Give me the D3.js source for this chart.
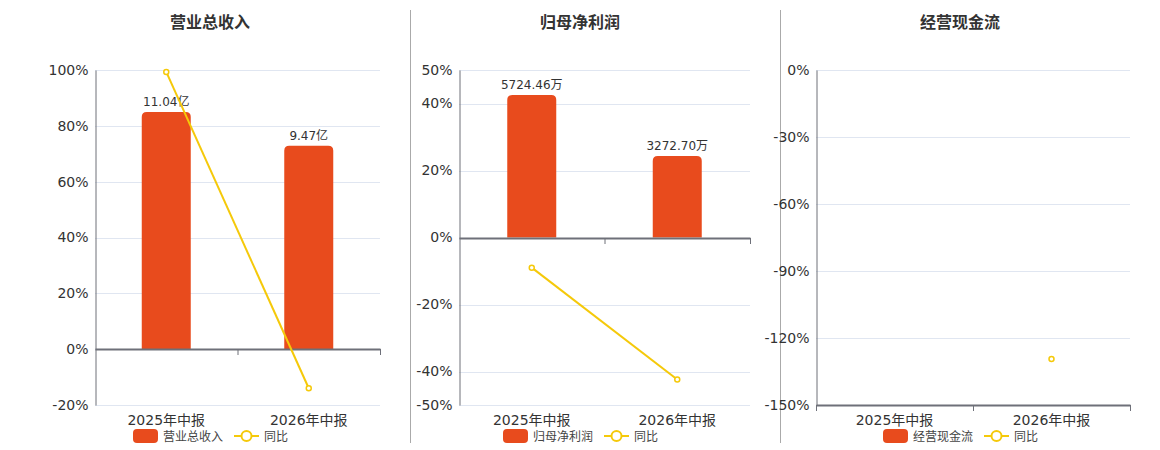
<!DOCTYPE html>
<html>
<head>
<meta charset="utf-8">
<script src="https://cdn.jsdelivr.net/npm/d3@7"></script>
<style>
  body { margin: 0; background: #fff; }
  text { font-family: "DejaVu Sans", "Noto Sans CJK SC", sans-serif; }
</style>
</head>
<body>
<div id="chart-area"></div>
<script>
// data
var categories = ["2025年中报", "2026年中报"];

var revenue = [11.04, 9.47];
var revenueLabels = ["11.04亿", "9.47亿"];
var revenueYoy = [99.3, -14.0];

var profit = [5724.46, 3272.70];
var profitLabels = ["5724.46万", "3272.70万"];
var profitYoy = [-9.0, -42.4];

var cashflow = [null, null];
var cashflowLabels = ["", ""];
var cashflowYoy = [null, -129.4];

var ticks1 = [-20, 0, 20, 40, 60, 80, 100];
var ticks2 = [-50, -40, -20, 0, 20, 40, 50];
var ticks3 = [-150, -120, -90, -60, -30, 0];

var barColor = "#e84b1d";
var lineColor = "#f5c90a";
var axisColor = "#6e7079";
var gridColor = "#e0e6f1";
var textColor = "#333";

var panels = [
  { title: "营业总收入", name: "营业总收入", bars: revenue, labels: revenueLabels, yoy: revenueYoy,
    ticks: ticks1, barDomain: [-2.6, 13], left: 95, right: 380, cx: 210, legendX: 133, axisAtZero: true },
  { title: "归母净利润", name: "归母净利润", bars: profit, labels: profitLabels, yoy: profitYoy,
    ticks: ticks2, barDomain: [-6725, 6725], left: 459, right: 750, cx: 580, legendX: 503, axisAtZero: true },
  { title: "经营现金流", name: "经营现金流", bars: cashflow, labels: cashflowLabels, yoy: cashflowYoy,
    ticks: ticks3, barDomain: [-1, 1], left: 816, right: 1130, cx: 960, legendX: 883, axisAtZero: false }
];

var plotTop = 70, plotBottom = 405, barWidth = 49;

var svg = d3.select("#chart-area")
  .append("svg")
  .attr("width", 1160)
  .attr("height", 450);

// panel dividers
[410, 780].forEach(function(x) {
  svg.append("line")
    .attr("x1", x + 0.5).attr("x2", x + 0.5)
    .attr("y1", 10).attr("y2", 443)
    .attr("stroke", "#aaa")
    .attr("stroke-width", 1);
});

panels.forEach(function(p) {
  var g = svg.append("g");

  var x = d3.scaleBand()
    .domain(categories)
    .range([p.left, p.right])
    .padding(0);

  var y = d3.scaleLinear()
    .domain(d3.extent(p.ticks))
    .range([plotBottom, plotTop]);

  var yBar = d3.scaleLinear()
    .domain(p.barDomain)
    .range([plotBottom, plotTop]);

  // title
  g.append("text")
    .attr("x", p.cx)
    .attr("y", 28)
    .attr("text-anchor", "middle")
    .attr("font-size", "16px")
    .attr("font-weight", "bold")
    .attr("fill", textColor)
    .text(p.title);

  // grid lines
  g.selectAll(".grid")
    .data(p.ticks)
    .enter()
    .append("line")
    .attr("x1", p.left).attr("x2", p.right)
    .attr("y1", function(d) { return Math.round(y(d)) + 0.5; })
    .attr("y2", function(d) { return Math.round(y(d)) + 0.5; })
    .attr("stroke", gridColor);

  // y axis
  var yAxis = d3.axisLeft(y)
    .tickValues(p.ticks)
    .tickSize(0)
    .tickPadding(7)
    .tickFormat(function(d) { return d + "%"; });

  var yAxisGroup = g.append("g")
    .attr("transform", "translate(" + (p.left + 0.5) + ",0)")
    .call(yAxis);
  yAxisGroup.select(".domain").attr("stroke", axisColor);
  yAxisGroup.selectAll("text")
    .attr("font-size", "14px")
    .attr("fill", textColor)
    .style("font-family", "'DejaVu Sans', 'Noto Sans CJK SC', sans-serif");

  // bars
  var barData = p.bars.map(function(v, i) { return { c: categories[i], v: v, label: p.labels[i] }; })
    .filter(function(d) { return d.v != null; });

  g.selectAll(".bar")
    .data(barData)
    .enter()
    .append("path")
    .attr("fill", barColor)
    .attr("d", function(d) {
      var x0 = x(d.c) + (x.bandwidth() - barWidth) / 2;
      var y0 = yBar(d.v), y1 = yBar(0), r = 5;
      return "M" + x0 + "," + y1 +
        "V" + (y0 + r) +
        "Q" + x0 + "," + y0 + " " + (x0 + r) + "," + y0 +
        "H" + (x0 + barWidth - r) +
        "Q" + (x0 + barWidth) + "," + y0 + " " + (x0 + barWidth) + "," + (y0 + r) +
        "V" + y1 + "Z";
    });

  g.selectAll(".barLabel")
    .data(barData)
    .enter()
    .append("text")
    .attr("x", function(d) { return x(d.c) + x.bandwidth() / 2; })
    .attr("y", function(d) { return yBar(d.v) - 6; })
    .attr("text-anchor", "middle")
    .attr("font-size", "12px")
    .attr("fill", textColor)
    .text(function(d) { return d.label; });

  // x axis
  var axisY = Math.round(p.axisAtZero ? y(0) : plotBottom);
  var xAxis = d3.axisBottom(x).tickSize(0).tickFormat("");
  var xAxisGroup = g.append("g")
    .attr("transform", "translate(0," + axisY + ")")
    .call(xAxis);
  xAxisGroup.select(".domain").attr("stroke", axisColor).attr("stroke-width", 2);

  // boundary ticks
  g.selectAll(".xtick")
    .data(categories)
    .enter()
    .append("line")
    .attr("x1", function(d) { return x(d) + x.bandwidth() + 0.5; })
    .attr("x2", function(d) { return x(d) + x.bandwidth() + 0.5; })
    .attr("y1", axisY)
    .attr("y2", axisY + 6)
    .attr("stroke", axisColor);
  if (!p.axisAtZero) {
    g.append("line")
      .attr("x1", p.left + 0.5).attr("x2", p.left + 0.5)
      .attr("y1", axisY).attr("y2", axisY + 6)
      .attr("stroke", axisColor);
  }

  // category labels
  g.selectAll(".xlabel")
    .data(categories)
    .enter()
    .append("text")
    .attr("x", function(d) { return x(d) + x.bandwidth() / 2; })
    .attr("y", 425)
    .attr("text-anchor", "middle")
    .attr("font-size", "14px")
    .attr("fill", textColor)
    .text(function(d) { return d; });

  // yoy line
  var lineData = p.yoy.map(function(v, i) { return { c: categories[i], v: v }; });
  var line = d3.line()
    .defined(function(d) { return d.v != null; })
    .x(function(d) { return x(d.c) + x.bandwidth() / 2; })
    .y(function(d) { return y(d.v); });

  g.append("path")
    .datum(lineData)
    .attr("d", line)
    .attr("fill", "none")
    .attr("stroke", lineColor)
    .attr("stroke-width", 2);

  g.selectAll(".pt")
    .data(lineData.filter(function(d) { return d.v != null; }))
    .enter()
    .append("circle")
    .attr("cx", function(d) { return x(d.c) + x.bandwidth() / 2; })
    .attr("cy", function(d) { return y(d.v); })
    .attr("r", 2.5)
    .attr("fill", "#fff")
    .attr("stroke", lineColor)
    .attr("stroke-width", 1.5);

  // legend
  var lg = g.append("g").attr("transform", "translate(" + p.legendX + ",429)");
  lg.append("rect")
    .attr("width", 25).attr("height", 14)
    .attr("rx", 4)
    .attr("fill", barColor);
  lg.append("text")
    .attr("x", 30).attr("y", 11.5)
    .attr("font-size", "12px")
    .attr("fill", "#444")
    .text(p.name);
  lg.append("line")
    .attr("x1", 101).attr("x2", 126)
    .attr("y1", 7).attr("y2", 7)
    .attr("stroke", lineColor)
    .attr("stroke-width", 2);
  lg.append("circle")
    .attr("cx", 113.5).attr("cy", 7)
    .attr("r", 5)
    .attr("fill", "#fff")
    .attr("stroke", lineColor)
    .attr("stroke-width", 2);
  lg.append("text")
    .attr("x", 131).attr("y", 11.5)
    .attr("font-size", "12px")
    .attr("fill", "#444")
    .text("同比");
});
</script>
</body>
</html>
